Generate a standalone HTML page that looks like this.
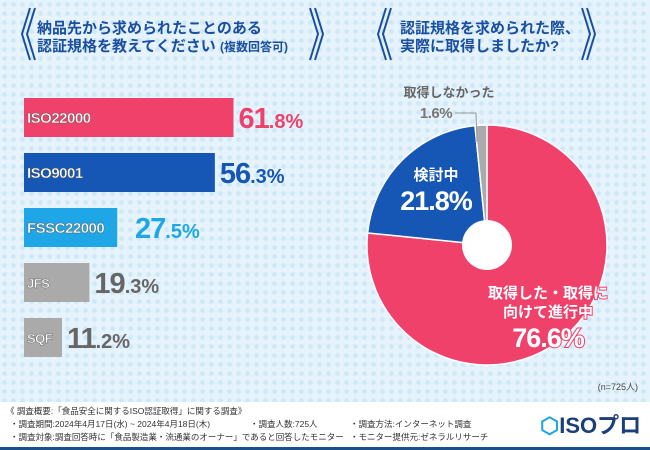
<!DOCTYPE html>
<html><head><meta charset="utf-8">
<style>
body{margin:0;width:650px;height:450px;overflow:hidden;font-family:"Liberation Sans","Noto Sans CJK JP",sans-serif;}
#root{position:relative;width:650px;height:450px;background-color:#e6f3fc;background-image:radial-gradient(circle,#cfe8f8 2.2px,transparent 2.6px);background-size:9px 9px;}
.t{position:absolute;color:#1a4fa0;font-weight:bold;font-size:15px;line-height:18px}
#footer{position:absolute;left:0;top:402px;width:650px;height:45px;background:#fff;font-size:8.5px;color:#333;}
#footer div{position:absolute;white-space:nowrap}
</style></head><body>
<div id="root">
<div class="t" style="left:37px;top:20px">納品先から求められたことのある<br>認証規格を教えてください <span style="font-size:12px">(複数回答可)</span></div>
<div class="t" style="left:400px;top:20px">認証規格を求められた際、<br>実際に取得しましたか?</div>
<svg id="chart" width="650" height="450" style="position:absolute;left:0;top:0"></svg>
<div style="position:absolute;right:12px;top:380px;font-size:9px;color:#444">(n=725人)</div>
<div id="footer">
<div style="left:6px;top:3px">《 調査概要:「食品安全に関するISO認証取得」に関する調査》</div>
<div style="left:10px;top:16px">・調査期間:2024年4月17日(水) ~ 2024年4月18日(木)</div>
<div style="left:250px;top:16px">・調査人数:725人</div>
<div style="left:350px;top:16px">・調査方法:インターネット調査</div>
<div style="left:10px;top:29px">・調査対象:調査回答時に「食品製造業・流通業のオーナー」であると回答したモニター</div>
<div style="left:350px;top:29px">・モニター提供元:ゼネラルリサーチ</div>
<div style="left:540px;top:6px;font-size:22px;font-weight:bold;color:#1a3f7a"><span style="color:#22a5e0">⬡</span>ISOプロ</div>
</div>
<div style="position:absolute;left:0;top:447px;width:650px;height:3px;background:#1a4f8a"></div>
</div>
<script>
const barCats=["ISO22000","ISO9001","FSSC22000","JFS","SQF"];
const barVals=[61.8,56.3,27.5,19.3,11.2];
const barColors=["#f0416b","#1657b5","#1ea6e6","#aaaaaa","#aaaaaa"];
const valColors=["#f0416b","#1657b5","#1ea6e6","#666","#666"];
const pieCats=["取得した・取得に向けて進行中","検討中","取得しなかった"];
const pieVals=[76.6,21.8,1.6];
const pieColors=["#f0416b","#1657b5","#aaaaaa"];
const NS="http://www.w3.org/2000/svg";
const svg=document.getElementById('chart');
function mk(t,a){const e=document.createElementNS(NS,t);for(const k in a)e.setAttribute(k,a[k]);svg.appendChild(e);return e;}
[[22,-1],[318,1],[378,-1],[590,1]].forEach(([x,d])=>{
 [0,5].forEach(o=>{
  const p=mk('polyline',{points:`${x+o+(d<0?8:-8)*1},8 ${x+o},34 ${x+o+(d<0?8:-8)},60`,fill:'none',stroke:'#1a4fa0','stroke-width':2});
  
  
 });
});
const x0=24,scale=3.39,y0=98,pitch=55,bh=39;
const xs=v=>v*scale, ys=i=>y0+i*pitch;
barCats.forEach((c,i)=>{
 const w=xs(barVals[i]);
 const r=mk('rect',{x:x0,y:ys(i),width:w,height:bh,fill:barColors[i]});
 
 
 const l=mk('text',{x:x0+3,y:ys(i)+25,'font-size':i<3?15:13,'font-weight':'bold',fill:'#fff',stroke:'#555','stroke-width':0.4,'letter-spacing':-0.5});
 l.textContent=c;
 
 
 const lw=i==2?106:0;
 const v=mk('text',{x:x0+Math.max(w,lw)+5,y:ys(i)+30,fill:valColors[i],'font-weight':'bold','letter-spacing':-1});
 const s=String(barVals[i]).split('.');
 v.innerHTML='<tspan font-size="29">'+s[0]+'</tspan><tspan font-size="20" letter-spacing="0">.'+s[1]+'%</tspan>';
 
 
});
const cx=487,cy=245,R=120,r0=25;
let a=0;const tot=pieVals.reduce((p,q)=>p+q,0);
pieVals.forEach((v,i)=>{
 const a1=a+v/tot*2*Math.PI;
 const p=(t,rr)=>[cx+rr*Math.sin(t),cy-rr*Math.cos(t)];
 const [xa,ya]=p(a,R),[xb,yb]=p(a1,R);
 const s=mk('path',{d:`M${cx},${cy}L${xa},${ya}A${R},${R} 0 ${a1-a>Math.PI?1:0} 1 ${xb},${yb}Z`,fill:pieColors[i],stroke:'#fff','stroke-width':1.5});
 
 
 a=a1;
});
const h=mk('circle',{cx:cx,cy:cy,r:r0,fill:'#fff'});


function txt(x,y,s,size,fill,stroke,anchor,ls){const t=mk('text',{x:x,y:y,'font-size':size,'font-weight':'bold',fill:fill,'text-anchor':anchor||'middle','letter-spacing':ls||0});if(stroke){t.setAttribute('stroke',stroke);t.setAttribute('stroke-width',2);t.setAttribute('paint-order','stroke');}t.textContent=s;return t;}
txt(548,298,'取得した・取得に',15,'#fff','#f0416b');
txt(548,317,'向けて進行中',15,'#fff','#f0416b');
txt(548,347,pieVals[0]+'%',27,'#fff','#f0416b','middle',-1);
txt(436,180,'検討中',15,'#fff','#1657b5');
txt(436,210,pieVals[1]+'%',27,'#fff','#1657b5','middle',-1);
txt(449,97,'取得しなかった',13,'#666');
txt(436,118,pieVals[2]+'%',15,'#777','','middle',-0.5);
const ln=mk('polyline',{points:'455,113 476,113 477,142',fill:'none',stroke:'#999','stroke-width':1});


</script>
</body></html>
